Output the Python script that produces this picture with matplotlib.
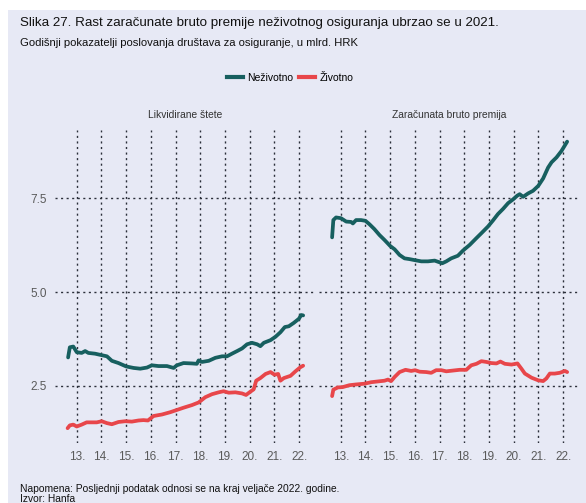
import matplotlib.pyplot as plt
from matplotlib.lines import Line2D
from matplotlib.patches import Rectangle

plt.rcParams["font.family"] = ["Liberation Sans", "DejaVu Sans"]

# Likvidirane štete
lik_nez_x = [2012.65, 2012.72, 2012.86, 2013.0, 2013.2, 2013.34, 2013.47, 2013.74, 2014.01,
             2014.22, 2014.42, 2014.69, 2015.0, 2015.3, 2015.57, 2015.84, 2016.04, 2016.31,
             2016.65, 2016.92, 2017.05, 2017.32, 2017.66, 2017.86, 2017.93, 2018.07, 2018.34,
             2018.61, 2018.88, 2019.08, 2019.28, 2019.49, 2019.69, 2019.89, 2020.09, 2020.3,
             2020.43, 2020.57, 2020.84, 2021.04, 2021.24, 2021.42, 2021.58, 2021.78, 2021.99,
             2022.08, 2022.16]
lik_nez_y = [3.26, 3.53, 3.55, 3.40, 3.38, 3.43, 3.38, 3.36, 3.32,
             3.29, 3.17, 3.11, 3.02, 2.98, 2.96, 2.99, 3.05, 3.03,
             3.03, 2.98, 3.05, 3.11, 3.10, 3.09, 3.18, 3.14, 3.17,
             3.25, 3.29, 3.29, 3.36, 3.43, 3.50, 3.61, 3.65, 3.61,
             3.56, 3.65, 3.72, 3.81, 3.93, 4.07, 4.09, 4.18, 4.29,
             4.39, 4.38]
lik_ziv_x = [2012.63, 2012.72, 2012.86, 2013.0, 2013.2, 2013.4, 2013.61, 2013.81, 2014.01,
             2014.22, 2014.42, 2014.69, 2014.96, 2015.23, 2015.5, 2015.7, 2015.88, 2016.11,
             2016.45, 2016.78, 2017.05, 2017.32, 2017.66, 2017.93, 2018.2, 2018.47, 2018.74,
             2018.94, 2019.15, 2019.42, 2019.69, 2019.85, 2020.03, 2020.16, 2020.26, 2020.43,
             2020.64, 2020.84, 2021.0, 2021.15, 2021.24, 2021.38, 2021.65, 2021.85, 2022.05,
             2022.16]
lik_ziv_y = [1.375, 1.45, 1.47, 1.42, 1.47, 1.53, 1.53, 1.53, 1.56,
             1.51, 1.48, 1.54, 1.56, 1.55, 1.58, 1.59, 1.58, 1.70,
             1.74, 1.80, 1.86, 1.92, 1.99, 2.06, 2.20, 2.28, 2.33,
             2.36, 2.32, 2.33, 2.30, 2.26, 2.35, 2.41, 2.64, 2.71,
             2.82, 2.87, 2.80, 2.82, 2.64, 2.71, 2.77, 2.89, 3.00,
             3.04]

# Zaračunata bruto premija
zbp_nez_x = [2012.65, 2012.70, 2012.81, 2013.01, 2013.22, 2013.42, 2013.49, 2013.62, 2013.82,
             2014.0, 2014.16, 2014.36, 2014.57, 2014.77, 2015.0, 2015.18, 2015.38, 2015.58,
             2015.78, 2016.01, 2016.26, 2016.53, 2016.80, 2016.93, 2017.11, 2017.27, 2017.47,
             2017.74, 2017.95, 2018.22, 2018.49, 2018.69, 2018.96, 2019.16, 2019.36, 2019.57,
             2019.77, 2019.97, 2020.14, 2020.24, 2020.38, 2020.58, 2020.78, 2020.99, 2021.19,
             2021.39, 2021.53, 2021.73, 2021.93, 2022.16]
zbp_nez_y = [6.46, 6.92, 6.99, 6.97, 6.88, 6.87, 6.83, 6.92, 6.92,
             6.90, 6.81, 6.68, 6.52, 6.39, 6.23, 6.14, 5.99, 5.90,
             5.88, 5.85, 5.82, 5.82, 5.84, 5.81, 5.77, 5.82, 5.90,
             5.97, 6.11, 6.26, 6.44, 6.57, 6.75, 6.91, 7.08, 7.22,
             7.37, 7.47, 7.57, 7.61, 7.54, 7.63, 7.70, 7.83, 8.03,
             8.32, 8.46, 8.59, 8.76, 9.01]
zbp_ziv_x = [2012.65, 2012.70, 2012.88, 2013.08, 2013.35, 2013.62, 2013.96, 2014.23, 2014.5,
             2014.77, 2014.91, 2015.04, 2015.18, 2015.38, 2015.62, 2015.85, 2016.01, 2016.19,
             2016.46, 2016.66, 2016.86, 2017.07, 2017.27, 2017.54, 2017.81, 2018.08, 2018.28,
             2018.49, 2018.69, 2018.89, 2019.09, 2019.30, 2019.46, 2019.64, 2019.91, 2020.15,
             2020.31, 2020.45, 2020.72, 2020.99, 2021.19, 2021.32, 2021.46, 2021.66, 2021.86,
             2022.07, 2022.16]
zbp_ziv_y = [2.23, 2.40, 2.46, 2.47, 2.52, 2.54, 2.56, 2.60, 2.62,
             2.64, 2.67, 2.63, 2.74, 2.87, 2.93, 2.90, 2.92, 2.88,
             2.87, 2.85, 2.92, 2.92, 2.89, 2.91, 2.93, 2.93, 3.05,
             3.09, 3.16, 3.14, 3.11, 3.10, 3.15, 3.09, 3.07, 3.10,
             2.96, 2.83, 2.72, 2.65, 2.63, 2.70, 2.83, 2.83, 2.85,
             2.90, 2.87]

years = list(range(2013, 2023))
year_labels = ["13.", "14.", "15.", "16.", "17.", "18.", "19.", "20.", "21.", "22."]
y_ticks = [2.5, 5.0, 7.5]

TEAL = "#175f5f"
RED = "#e8464a"
BG = "#e7e9f5"

W, H = 586, 503
fig = plt.figure(figsize=(W / 100, H / 100), dpi=100)
fig.patches.append(Rectangle((8 / W, 0), 1, 1 - 10 / H, transform=fig.transFigure,
                             facecolor=BG, edgecolor="none", zorder=-10))

panels = [
    ("Likvidirane štete", 55, lik_nez_x, lik_nez_y, lik_ziv_x, lik_ziv_y),
    ("Zaračunata bruto premija", 319, zbp_nez_x, zbp_nez_y, zbp_ziv_x, zbp_ziv_y),
]
for i, (name, left, nx, ny, zx, zy) in enumerate(panels):
    ax = fig.add_axes([left / W, (H - 443) / H, 260 / W, 313 / H])
    ax.set_facecolor("none")
    ax.plot(nx, ny, color=TEAL, lw=2.7, solid_capstyle="round", zorder=3)
    ax.plot(zx, zy, color=RED, lw=2.7, solid_capstyle="round", zorder=3)
    ax.set_xlim(2012.12, 2022.64)
    ax.set_ylim(0.98, 9.32)
    ax.set_xticks(years)
    ax.set_xticklabels(year_labels)
    ax.set_yticks(y_ticks)
    ax.set_yticklabels(["2.5", "5.0", "7.5"] if i == 0 else [])
    ax.grid(True, color="#2b2f3a", linestyle=(0, (1.5, 2.5)), linewidth=1.0)
    ax.tick_params(length=0, labelsize=8.5, colors="#5a5a5a", pad=6)
    for s in ax.spines.values():
        s.set_visible(False)
    ax.set_title(name, fontsize=7.4, color="#333333", pad=9)

fig.text(20 / W, 1 - 23 / H, "Slika 27. Rast zaračunate bruto premije neživotnog osiguranja ubrzao se u 2021.",
         fontsize=9.6, va="center", ha="left", color="#111111")
fig.text(20 / W, 1 - 43 / H, "Godišnji pokazatelji poslovanja društava za osiguranje, u mlrd. HRK",
         fontsize=8.1, va="center", ha="left", color="#111111")

handles = [Line2D([], [], color=TEAL, lw=3), Line2D([], [], color=RED, lw=3)]
fig.legend(handles, ["Neživotno", "Životno"], loc="center", bbox_to_anchor=(0.495, 1 - 78 / H),
           ncol=2, frameon=False, fontsize=7.5, handlelength=1.6, handletextpad=0.4,
           columnspacing=0.5)

fig.text(20 / W, 1 - 489 / H, "Napomena: Posljednji podatak odnosi se na kraj veljače 2022. godine.",
         fontsize=7.4, va="center", ha="left", color="#111111")
fig.text(20 / W, 1 - 499 / H, "Izvor: Hanfa", fontsize=7.4, va="center", ha="left", color="#111111")

fig.savefig("out.png", dpi=100)
